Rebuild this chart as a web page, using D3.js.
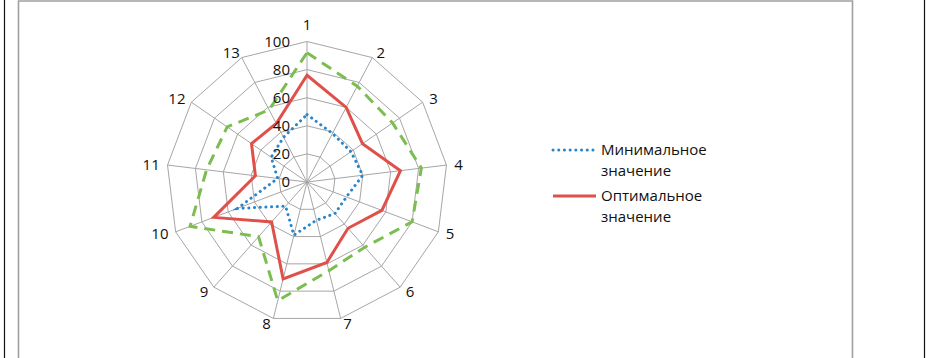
<!DOCTYPE html>
<html>
<head>
<meta charset="utf-8">
<script src="https://cdn.jsdelivr.net/npm/d3@7"></script>
<style>
  html, body { margin: 0; padding: 0; background: #fff; }
  svg { display: block; }
  text { font-family: "Open Sans", "Noto Sans", sans-serif; fill: #111; }
</style>
</head>
<body>
<svg id="chart" width="926" height="358"></svg>
<script>
// Axis names (13 criteria) and ring tick values
const axes = ["1","2","3","4","5","6","7","8","9","10","11","12","13"];
const ticks = [0, 20, 40, 60, 80, 100];

// Series values per axis
const minValues = [48, 39, 38, 40, 30, 30, 28, 39, 23, 53, 21, 31, 36];
const optValues = [76, 60, 48, 67, 57, 44, 59, 71, 38, 71, 37, 48, 47];
const maxValues = [92, 77, 74, 82, 80, 62, 65, 87, 52, 89, 72, 69, 58];

const legendNames = [["Минимальное", "значение"], ["Оптимальное", "значение"]];

const svg = d3.select("#chart");
const W = 926, H = 358;
const cx = 307, cy = 182, R = 140.5;

// Outer frame lines
svg.append("line").attr("x1", 4.5).attr("x2", 4.5).attr("y1", 0).attr("y2", H)
  .attr("stroke", "#111").attr("stroke-width", 1.2);
svg.append("line").attr("x1", 924.5).attr("x2", 924.5).attr("y1", 0).attr("y2", H)
  .attr("stroke", "#111").attr("stroke-width", 1.2);
svg.append("path")
  .attr("d", `M18.5,${H + 2} V1 H852.5 V${H + 2}`)
  .attr("fill", "none").attr("stroke", "#a0a0a0").attr("stroke-width", 1.6);

const r = d3.scaleLinear().domain([0, 100]).range([0, R]);
const angle = d3.scalePoint().domain(axes).range([0, 2 * Math.PI * (axes.length - 1) / axes.length]);

const g = svg.append("g").attr("transform", `translate(${cx},${cy})`);

// Grid polygons
const ring = d3.lineRadial()
  .angle(d => angle(d.axis))
  .radius(d => r(d.value))
  .curve(d3.curveLinearClosed);

g.selectAll("path.ring")
  .data(ticks.filter(t => t > 0))
  .join("path")
  .attr("class", "ring")
  .attr("d", t => ring(axes.map(a => ({ axis: a, value: t }))))
  .attr("fill", "none")
  .attr("stroke", "#a6a6a6")
  .attr("stroke-width", 1);

// Spokes
g.selectAll("line.spoke")
  .data(axes)
  .join("line")
  .attr("class", "spoke")
  .attr("x1", 0).attr("y1", 0)
  .attr("x2", a => r(100) * Math.sin(angle(a)))
  .attr("y2", a => -r(100) * Math.cos(angle(a)))
  .attr("stroke", "#a6a6a6")
  .attr("stroke-width", 1);

// Series
const series = [
  { values: minValues, color: "#2a86cc", width: 3, dash: "0.1 5.6", cap: "round" },
  { values: optValues, color: "#e0504b", width: 3, dash: null, cap: "butt" },
  { values: maxValues, color: "#7bbd4e", width: 3, dash: "11 7", cap: "butt" }
];

g.selectAll("path.series")
  .data(series)
  .join("path")
  .attr("class", "series")
  .attr("d", s => ring(axes.map((a, i) => ({ axis: a, value: s.values[i] }))))
  .attr("fill", "none")
  .attr("stroke", s => s.color)
  .attr("stroke-width", s => s.width)
  .attr("stroke-linecap", s => s.cap)
  .attr("stroke-linejoin", "miter")
  .attr("stroke-dasharray", s => s.dash);

// Ring value labels along the first spoke
g.selectAll("text.tick")
  .data(ticks)
  .join("text")
  .attr("class", "tick")
  .attr("x", -17)
  .attr("y", t => -r(t))
  .attr("dy", "0.35em")
  .attr("text-anchor", "end")
  .attr("font-size", 15)
  .text(t => t);

// Axis names outside the outer ring
g.selectAll("text.axis")
  .data(axes)
  .join("text")
  .attr("class", "axis")
  .attr("font-size", 15)
  .attr("text-anchor", "middle")
  .attr("dy", "0.35em")
  .text(a => a)
  .each(function (a) {
    const th = angle(a), s = Math.sin(th), c = Math.cos(th);
    const w = this.getComputedTextLength();
    const vx = r(100) * s, vy = -r(100) * c;
    const dx = Math.abs(s) < 0.05 ? 0 : s * (2.8 + w / 2) + Math.sign(s) * 5.1;
    const dy = Math.abs(s) < 0.05 ? -16.5 : -6 * c;
    d3.select(this).attr("x", vx + dx).attr("y", vy + dy);
  });

// Legend
const legend = svg.append("g");
const legendItems = [
  { s: series[0], names: legendNames[0], y: 150 },
  { s: series[1], names: legendNames[1], y: 196 }
];
legendItems.forEach(item => {
  legend.append("line")
    .attr("x1", 553).attr("x2", 596)
    .attr("y1", item.y).attr("y2", item.y)
    .attr("stroke", item.s.color)
    .attr("stroke-width", item.s.width)
    .attr("stroke-linecap", item.s.cap)
    .attr("stroke-dasharray", item.s.dash);
  item.names.forEach((n, k) => {
    legend.append("text")
      .attr("x", 601)
      .attr("y", item.y + k * 21)
      .attr("dy", "0.35em")
      .attr("font-size", 15)
      .text(n);
  });
});
</script>
</body>
</html>
